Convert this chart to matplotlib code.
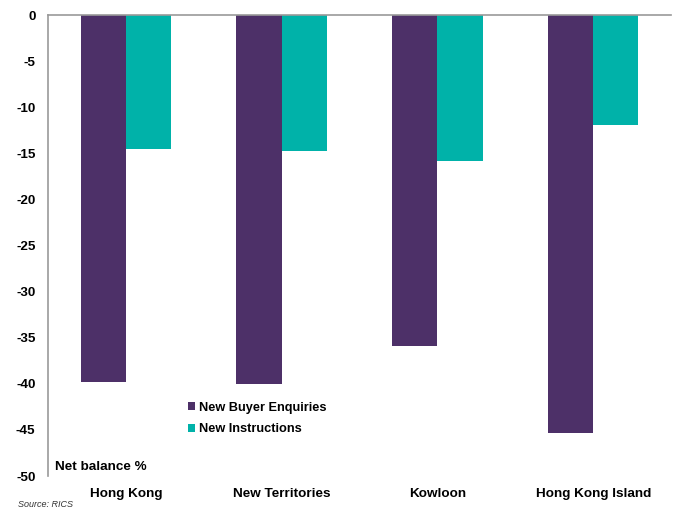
import numpy as np
import matplotlib.pyplot as plt

plt.rcParams['font.family'] = ['Liberation Sans', 'DejaVu Sans']

regions = ['Hong Kong', 'New Territories', 'Kowloon', 'Hong Kong Island']
buyer_enquiries = [-39.8, -40.0, -35.9, -45.3]
new_instructions = [-14.5, -14.7, -15.8, -11.9]

purple = '#4d3068'
teal = '#00b2a9'
fs = 9.2

fig = plt.figure(figsize=(6.82, 5.09), dpi=100)
ax = fig.add_axes([0.0704, 0.0648, 0.9136, 0.9057])

x = np.arange(len(regions))
w = 0.29
b1 = ax.bar(x - w / 2, buyer_enquiries, w, color=purple, label='New Buyer Enquiries')
b2 = ax.bar(x + w / 2, new_instructions, w, color=teal, label='New Instructions')

ax.set_xlim(-0.5, len(regions) - 0.5)
ax.set_ylim(-50, 0)
ax.set_yticks(np.arange(-50, 1, 5))
ax.set_yticklabels([str(v) for v in range(-50, 1, 5)], fontweight='bold', fontsize=fs + 0.5)
ax.tick_params(axis='y', length=0, pad=9)
ax.set_xticks([])

for s in ['right', 'bottom']:
    ax.spines[s].set_visible(False)
for s in ['left', 'top']:
    ax.spines[s].set_color('#999999')
    ax.spines[s].set_linewidth(1.2)

# category names sit below the plot area
for xi, name in zip(x, regions):
    ax.text(xi, -51.9, name, ha='center', va='center', fontsize=fs + 0.5,
            fontweight='bold', clip_on=False)

ax.text(0.011, 0.007, 'Net balance %', transform=ax.transAxes, fontsize=fs + 0.5,
        fontweight='bold', ha='left', va='bottom')

ax.legend(handles=[b1, b2], loc='upper left', bbox_to_anchor=(0.224, 0.161),
          frameon=False, borderpad=0, borderaxespad=0,
          handlelength=0.6, handleheight=0.6, handletextpad=0.3,
          labelspacing=0.75, prop={'weight': 'bold', 'size': fs})

fig.text(0.026, 0.004, 'Source: RICS', fontsize=6.5, style='italic', color='#333333')

fig.savefig('out.png', dpi=100)
